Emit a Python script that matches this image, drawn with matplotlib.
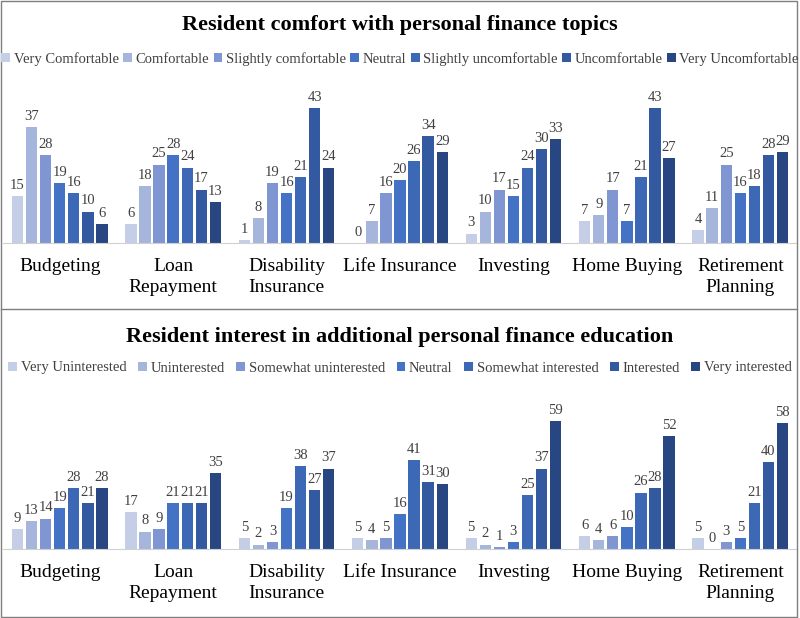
import numpy as np
import matplotlib
matplotlib.use("Agg")
from matplotlib import pyplot as plt
from matplotlib.patches import Rectangle
from matplotlib.lines import Line2D

plt.rcParams['font.family'] = ['Liberation Serif', 'DejaVu Serif']

categories = ["Budgeting", "Loan\nRepayment", "Disability\nInsurance", "Life Insurance",
              "Investing", "Home Buying", "Retirement\nPlanning"]

comfort_labels = ["Very Comfortable", "Comfortable", "Slightly comfortable", "Neutral",
                  "Slightly uncomfortable", "Uncomfortable", "Very Uncomfortable"]
comfort_values = [
    [15, 6, 1, 0, 3, 7, 4],
    [37, 18, 8, 7, 10, 9, 11],
    [28, 25, 19, 16, 17, 17, 25],
    [19, 28, 16, 20, 15, 7, 16],
    [16, 24, 21, 26, 24, 21, 18],
    [10, 17, 43, 34, 30, 43, 28],
    [6, 13, 24, 29, 33, 27, 29],
]

interest_labels = ["Very Uninterested", "Uninterested", "Somewhat uninterested", "Neutral",
                   "Somewhat interested", "Interested", "Very interested"]
interest_values = [
    [9, 17, 5, 5, 5, 6, 5],
    [13, 8, 2, 4, 2, 4, 0],
    [14, 9, 3, 5, 1, 6, 3],
    [19, 21, 19, 16, 3, 10, 5],
    [28, 21, 38, 41, 25, 26, 21],
    [21, 21, 27, 31, 37, 28, 40],
    [28, 35, 37, 30, 59, 52, 58],
]

colors = ["#C4CEE6", "#A6B5DB", "#8096D2", "#4472C4", "#3C68B6", "#335AA0", "#284682"]

W, H = 800, 618
fig = plt.figure(figsize=(8, 6.18), dpi=100)


def draw_panel(ax, labels, values, ymax):
    x = np.arange(len(categories))
    step = 0.124
    width = 0.1
    for i, (lab, vals) in enumerate(zip(labels, values)):
        bars = ax.bar(x + (i - 3) * step, vals, width, color=colors[i], label=lab)
        ax.bar_label(bars, labels=[str(v) for v in vals], padding=3, fontsize=10.5,
                     color="#404040")
    ax.set_xlim(-0.5, len(categories) - 0.5)
    ax.set_ylim(0, ymax)
    ax.set_xticks(x)
    ax.set_xticklabels(categories, fontsize=14, linespacing=1.3)
    ax.tick_params(axis="x", length=0, pad=11)
    ax.set_yticks([])
    for s in ["top", "left", "right"]:
        ax.spines[s].set_visible(False)
    ax.spines["bottom"].set_color("#D0D0D0")
    ax.patch.set_alpha(0)


ax1 = fig.add_axes([3 / W, (H - 243) / H, 794 / W, 157 / H])
draw_panel(ax1, comfort_labels, comfort_values, 50)

ax2 = fig.add_axes([3 / W, (H - 549) / H, 794 / W, 152 / H])
draw_panel(ax2, interest_labels, interest_values, 70)

fig.text(0.5, (H - 25) / H, "Resident comfort with personal finance topics",
         ha="center", va="center", fontsize=16, fontweight="bold")
fig.text(0.5, (H - 337) / H, "Resident interest in additional personal finance education",
         ha="center", va="center", fontsize=16, fontweight="bold")

for ax, y, cs in [(ax1, 59, 0.3), (ax2, 368, 0.8)]:
    h, l = ax.get_legend_handles_labels()
    fig.legend(h, l, loc="center", bbox_to_anchor=(0.5, (H - y) / H), ncol=7,
               frameon=False, fontsize=10.5, handlelength=0.6, handleheight=0.6,
               handletextpad=0.25, columnspacing=cs, labelcolor="#404040",
               borderpad=0, borderaxespad=0)

# panel borders
fig.patches.append(Rectangle((1 / W, 1 / H), 796 / W, 616 / H, transform=fig.transFigure,
                             fill=False, edgecolor="#7F7F7F", linewidth=1))
fig.lines.append(Line2D([1 / W, 797 / W], [(H - 309) / H] * 2, transform=fig.transFigure,
                        color="#7F7F7F", linewidth=1))

fig.savefig("out.png", dpi=100)
